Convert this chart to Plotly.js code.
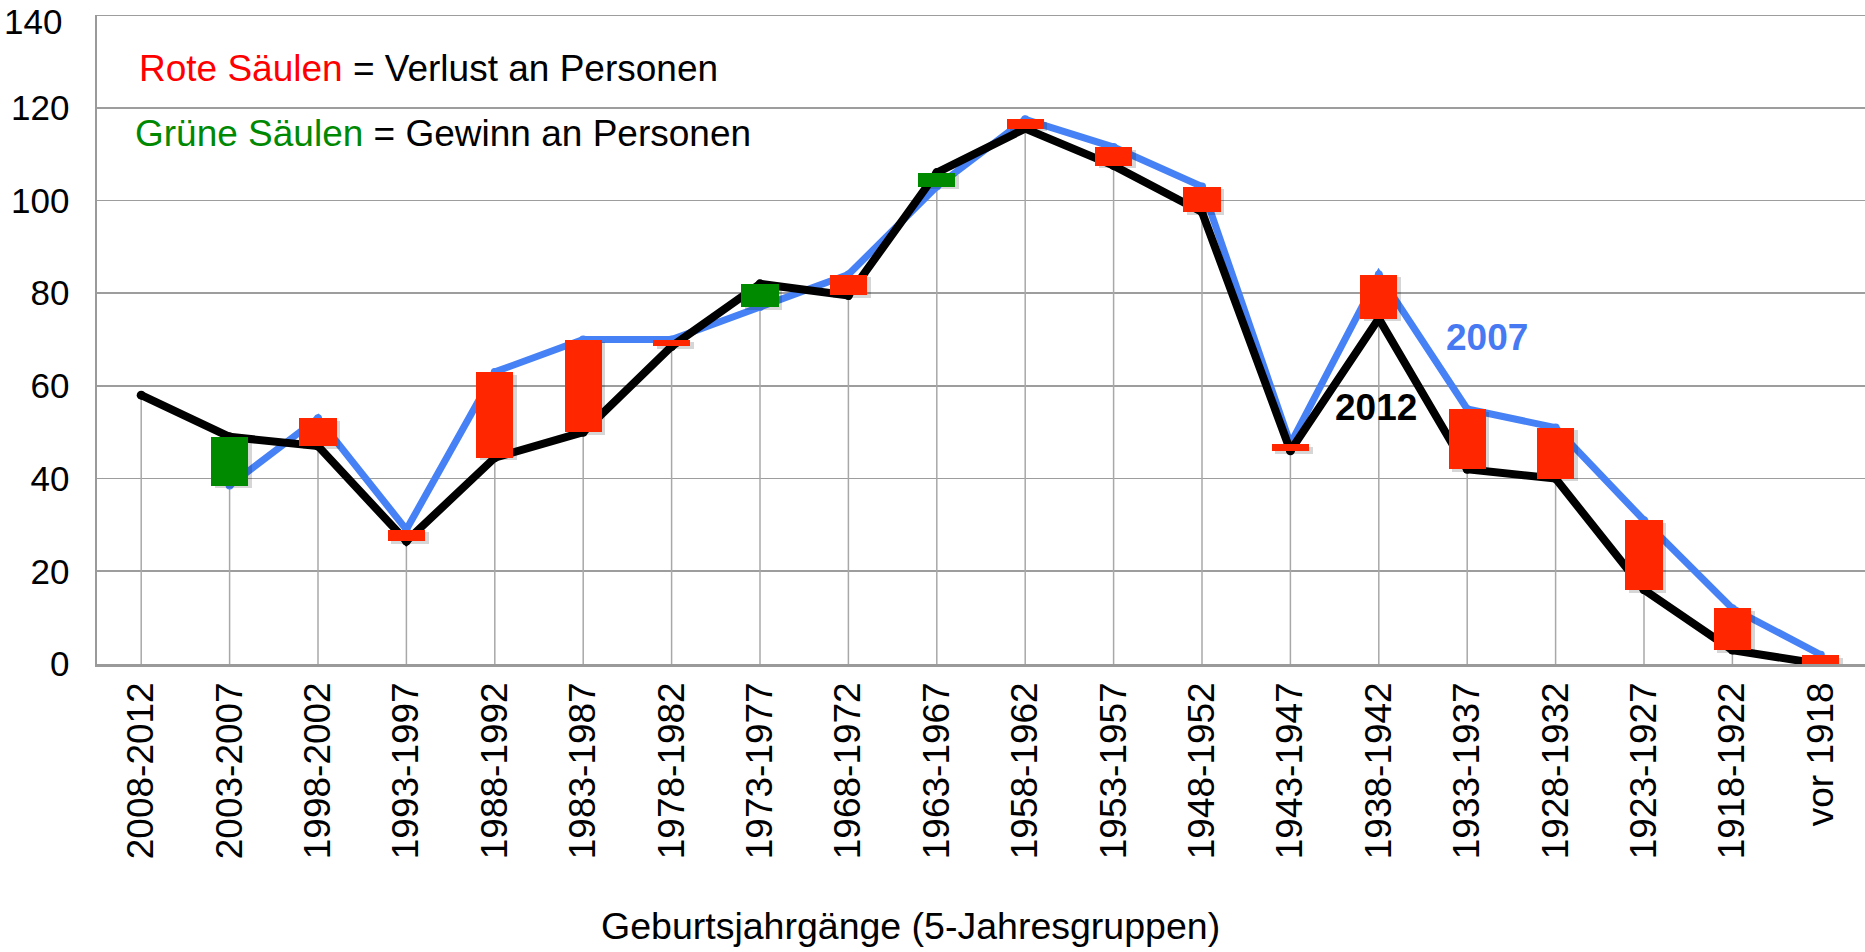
<!DOCTYPE html>
<html>
<head>
<meta charset="utf-8">
<script src="https://cdn.plot.ly/plotly-3.0.1.min.js"></script>
<style>html,body{margin:0;padding:0;background:#fff;}#chart{width:1865px;height:952px;}</style>
</head>
<body>
<div id="chart"></div>
<script>
// Birth-year groups (5-year groups)
const categories = ["2008-2012","2003-2007","1998-2002","1993-1997","1988-1992","1983-1987","1978-1982","1973-1977","1968-1972","1963-1967","1958-1962","1953-1957","1948-1952","1943-1947","1938-1942","1933-1937","1928-1932","1923-1927","1918-1922","vor 1918"];
// Population 2012 (black line)
const values2012 = [58, 49, 47, 26.5, 44.5, 50, 68.5, 82, 79.5, 106, 115.5, 107.5, 97.5, 46, 74.5, 42, 40, 16, 3, 0];
// Population 2007 (blue line); no value for the youngest group
const values2007 = [null, 38.5, 53, 29, 63, 70, 70, 77, 84, 103, 117.5, 111.5, 103, 47.5, 84, 55, 51, 31, 12, 2];
const yTicks = [0, 20, 40, 60, 80, 100, 120, 140];
const yMax = 140;

const FONT = 'Arial, "Liberation Sans", Helvetica, sans-serif';
const RED = '#ff2600', GREEN = '#008a00';

// floating change bars derived from both series
const barX = [], barBase = [], barH = [], barCol = [];
categories.forEach((c, i) => {
  if (values2007[i] === null) return;
  const a = values2007[i], b = values2012[i];
  barX.push(c);
  barBase.push(Math.min(a, b));
  barH.push(Math.abs(a - b));
  barCol.push(b < a ? RED : GREEN);
});

// drop lines from axis to the 2012 value
const dropX = [], dropY = [];
categories.forEach((c, i) => { dropX.push(c, c, null); dropY.push(0, values2012[i], null); });

const traces = [
  {type:'scatter', mode:'lines', x:dropX, y:dropY, line:{color:'#a8a8a8', width:1.5}, hoverinfo:'skip', showlegend:false},
  {type:'scatter', mode:'lines+markers', x:categories, y:values2007, line:{color:'#4681f6', width:7}, marker:{size:8, color:'#4681f6'}, connectgaps:false, showlegend:false},
  {type:'scatter', mode:'lines+markers', x:categories, y:values2012, line:{color:'#000000', width:8}, marker:{size:9, color:'#000000'}, showlegend:false},
  {type:'bar', x:barX, y:barH, base:barBase.map(v => v - 0.6), width:0.42, offset:-0.17, yaxis:'y2', marker:{color:'rgba(0,0,0,0.16)', line:{width:0}}, hoverinfo:'skip', showlegend:false},
  {type:'bar', x:barX, y:barH, base:barBase, width:0.42, yaxis:'y2', marker:{color:barCol, line:{width:0}}, showlegend:false}
];

const topTick = yTicks[yTicks.length - 1];

const layout = {
  width:1865, height:952,
  margin:{l:97, r:0, t:15, b:288},
  paper_bgcolor:'#ffffff', plot_bgcolor:'#ffffff',
  font:{family:FONT, color:'#000', size:36},
  bargap:0,
  xaxis:{
    type:'category', categoryorder:'array', categoryarray:categories,
    range:[-0.5, 19.5], showgrid:false, zeroline:false,
    showline:true, linecolor:'#9a9a9a', linewidth:2.5,
    ticks:'', tickangle:-90, tickfont:{family:FONT, size:37, color:'#000'},
    ticklabelstandoff:1
  },
  yaxis:{
    range:[0, yMax], tickvals:yTicks.slice(0, -1), ticktext:yTicks.slice(0, -1).map(String),
    showgrid:true, gridcolor:'#9d9d9d', gridwidth:1.6, zeroline:false,
    showline:true, linecolor:'#9a9a9a', linewidth:2.5,
    ticks:'', tickfont:{family:FONT, size:35, color:'#000'},
    ticklabelstandoff:18
  },
  yaxis2:{range:[0, yMax], overlaying:'y', visible:false, showgrid:false, zeroline:false},
  shapes:[
    {type:'line', xref:'paper', yref:'y', x0:0, x1:1, y0:yMax, y1:yMax, line:{color:'#9d9d9d', width:2}, layer:'below'}
  ],
  annotations:[
    {xref:'paper', yref:'paper', x:-0.0185, y:1.023, xanchor:'right', yanchor:'top', showarrow:false,
     text:String(topTick), font:{family:FONT, size:35, color:'#000'}},
    {xref:'paper', yref:'paper', x:0.0226, y:0.918, xanchor:'left', yanchor:'middle', showarrow:false,
     text:'<span style="color:#ff0000">Rote Säulen</span> = Verlust an Personen', font:{family:FONT, size:37, color:'#000'}},
    {xref:'paper', yref:'paper', x:0.0203, y:0.818, xanchor:'left', yanchor:'middle', showarrow:false,
     text:'<span style="color:#008800">Grüne Säulen</span> = Gewinn an Personen', font:{family:FONT, size:37, color:'#000'}},
    {xref:'paper', yref:'paper', x:0.7234, y:0.395, xanchor:'center', yanchor:'middle', showarrow:false,
     text:'<b>2012</b>', font:{family:FONT, size:37, color:'#000'}},
    {xref:'paper', yref:'paper', x:0.786, y:0.503, xanchor:'center', yanchor:'middle', showarrow:false,
     text:'<b>2007</b>', font:{family:FONT, size:37, color:'#4779f2'}},
    {xref:'paper', yref:'paper', x:0.4604, y:-0.403, xanchor:'center', yanchor:'middle', showarrow:false,
     text:'Geburtsjahrgänge (5-Jahresgruppen)', font:{family:FONT, size:37.5, color:'#000'}}
  ]
};

Plotly.newPlot('chart', traces, layout, {displayModeBar:false, staticPlot:true});
</script>
</body>
</html>
